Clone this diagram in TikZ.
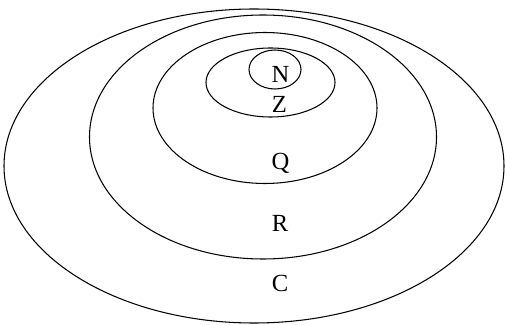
\documentclass[tikz,border=0pt]{standalone}
\usepackage{fontspec}
\setmainfont{Liberation Serif}
\usetikzlibrary{shapes.geometric}

\begin{document}
\begin{tikzpicture}[
  ring/.style={draw=black, line width=0.6pt, ellipse, inner sep=0pt},
  setname/.style={font=\fontsize{14}{16}\selectfont, inner sep=0pt}]
\useasboundingbox (0,0) rectangle (10.1,-6.5);
% nested sets
\node[ring, minimum width=10.0cm, minimum height=6.28cm] (ringC) at (5.08,-3.32) {};
\node[ring, minimum width=6.94cm, minimum height=4.88cm] (ringR) at (5.26,-2.74) {};
\node[ring, minimum width=4.48cm, minimum height=3.02cm] (ringQ) at (5.30,-2.16) {};
\node[ring, minimum width=2.58cm, minimum height=1.38cm] (ringZ) at (5.41,-1.65) {};
\node[ring, minimum width=1.04cm, minimum height=0.78cm] (ringN) at (5.50,-1.39) {};
% labels
\node[setname] (labN) at (5.61,-1.48) {N};
\node[setname] (labZ) at (5.59,-2.08) {Z};
\node[setname] (labQ) at (5.61,-3.26) {Q};
\node[setname] (labR) at (5.60,-4.46) {R};
\node[setname] (labC) at (5.60,-5.66) {C};
\end{tikzpicture}
\end{document}
